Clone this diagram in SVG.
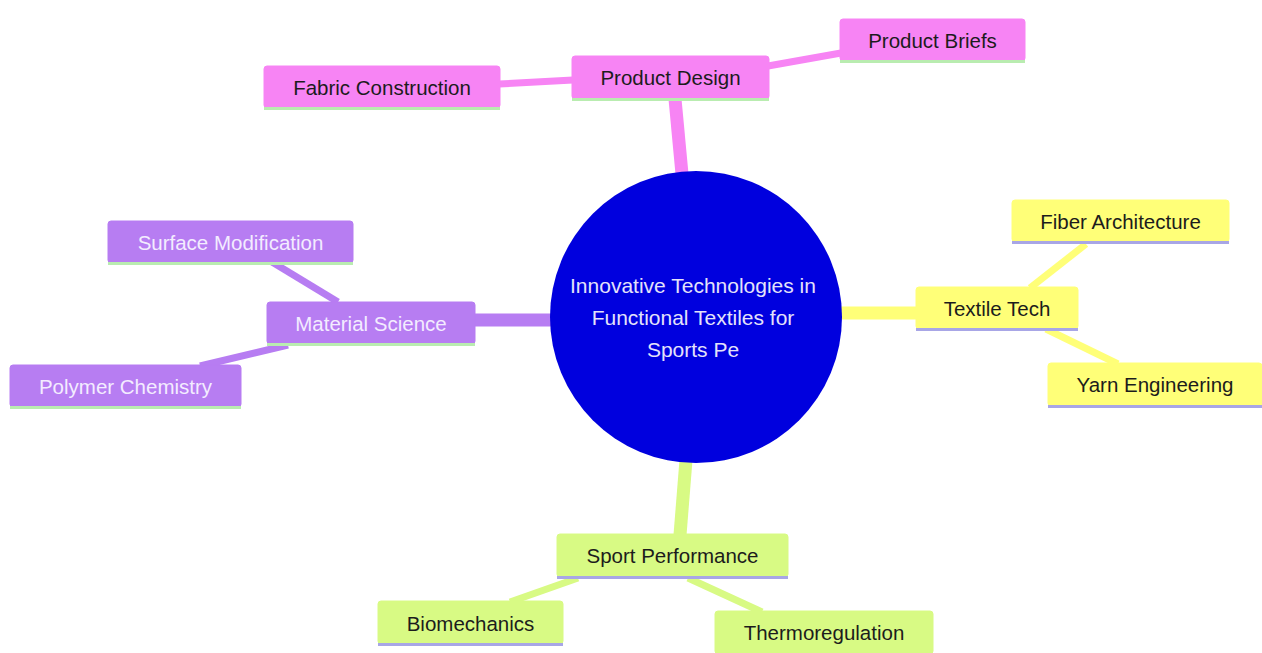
<svg xmlns="http://www.w3.org/2000/svg" width="1262" height="653" viewBox="0 0 1262 653">
<style>
text{font-family:"Liberation Sans",Arial,sans-serif;font-size:20.5px;text-anchor:middle;dominant-baseline:central}
.e1{stroke-width:13;fill:none;stroke-linecap:butt}
.e2{stroke-width:7;fill:none;stroke-linecap:butt}
.pk{fill:#f784f4;stroke:#f784f4}
.pu{fill:#b77df2;stroke:#b77df2}
.ye{fill:#ffff78;stroke:#ffff78}
.gr{fill:#d8fa84;stroke:#d8fa84}
.lpk,.lpu{stroke:#b9ecb0;stroke-width:3}
.lye,.lgr{stroke:#a8a6e6;stroke-width:3}
.dark{fill:#1c1c1c}
.light{fill:#f3ecff}
.root{fill:#e4e2fa;font-size:21px}
</style>
<rect width="1262" height="653" fill="#ffffff"/>
<g id="connectors">
<line class="e1" style="stroke:#f784f4" x1="682" y1="174" x2="675" y2="99"/>
<line class="e2" style="stroke:#f784f4" x1="573" y1="80" x2="499" y2="84"/>
<line class="e2" style="stroke:#f784f4" x1="768" y1="66" x2="841" y2="53"/>
<line class="e1" style="stroke:#b77df2" x1="553" y1="320" x2="474" y2="320"/>
<line class="e2" style="stroke:#b77df2" x1="272" y1="262" x2="338" y2="302"/>
<line class="e2" style="stroke:#b77df2" x1="200" y1="366" x2="288" y2="345"/>
<line class="e1" style="stroke:#ffff78" x1="840" y1="313" x2="917" y2="313"/>
<line class="e2" style="stroke:#ffff78" x1="1086" y1="244" x2="1030" y2="288"/>
<line class="e2" style="stroke:#ffff78" x1="1046" y1="329" x2="1118" y2="364"/>
<line class="e1" style="stroke:#d8fa84" x1="686" y1="460" x2="680" y2="535"/>
<line class="e2" style="stroke:#d8fa84" x1="578" y1="578" x2="510" y2="602"/>
<line class="e2" style="stroke:#d8fa84" x1="688" y1="578" x2="762" y2="612"/>
</g>
<g id="root">
<circle cx="696" cy="317" r="146" fill="#0000de"/>
<text x="693" y="285" class="root">Innovative Technologies in</text>
<text x="693" y="317" class="root">Functional Textiles for</text>
<text x="693" y="349" class="root">Sports Pe</text>
</g>
<g id="product-design">
<rect class="pk" x="572" y="56" width="197" height="43" rx="3"/>
<line class="lpk" x1="572" y1="99.5" x2="769" y2="99.5"/>
<text x="670.5" y="77" class="dark">Product Design</text>
</g>
<g id="product-briefs">
<rect class="pk" x="840" y="19" width="185" height="42" rx="3"/>
<line class="lpk" x1="840" y1="61.5" x2="1025" y2="61.5"/>
<text x="932.5" y="40" class="dark">Product Briefs</text>
</g>
<g id="fabric-construction">
<rect class="pk" x="264" y="66" width="236" height="42" rx="3"/>
<line class="lpk" x1="264" y1="108.5" x2="500" y2="108.5"/>
<text x="382" y="87" class="dark">Fabric Construction</text>
</g>
<g id="material-science">
<rect class="pu" x="267" y="302" width="208" height="42" rx="3"/>
<line class="lpu" x1="267" y1="344.5" x2="475" y2="344.5"/>
<text x="371" y="323" class="light">Material Science</text>
</g>
<g id="surface-modification">
<rect class="pu" x="108" y="221" width="245" height="42" rx="3"/>
<line class="lpu" x1="108" y1="263.5" x2="353" y2="263.5"/>
<text x="230.5" y="242" class="light">Surface Modification</text>
</g>
<g id="polymer-chemistry">
<rect class="pu" x="10" y="365" width="231" height="42" rx="3"/>
<line class="lpu" x1="10" y1="407.5" x2="241" y2="407.5"/>
<text x="125.5" y="386" class="light">Polymer Chemistry</text>
</g>
<g id="textile-tech">
<rect class="ye" x="916" y="287" width="162" height="42" rx="3"/>
<line class="lye" x1="916" y1="329.5" x2="1078" y2="329.5"/>
<text x="997" y="308" class="dark">Textile Tech</text>
</g>
<g id="fiber-architecture">
<rect class="ye" x="1012" y="200" width="217" height="42" rx="3"/>
<line class="lye" x1="1012" y1="242.5" x2="1229" y2="242.5"/>
<text x="1120.5" y="221" class="dark">Fiber Architecture</text>
</g>
<g id="yarn-engineering">
<rect class="ye" x="1048" y="363" width="214" height="43" rx="3"/>
<line class="lye" x1="1048" y1="406.5" x2="1262" y2="406.5"/>
<text x="1155" y="384" class="dark">Yarn Engineering</text>
</g>
<g id="sport-performance">
<rect class="gr" x="557" y="534" width="231" height="43" rx="3"/>
<line class="lgr" x1="557" y1="577.5" x2="788" y2="577.5"/>
<text x="672.5" y="555" class="dark">Sport Performance</text>
</g>
<g id="biomechanics">
<rect class="gr" x="378" y="601" width="185" height="43" rx="3"/>
<line class="lgr" x1="378" y1="644.5" x2="563" y2="644.5"/>
<text x="470.5" y="623" class="dark">Biomechanics</text>
</g>
<g id="thermoregulation">
<rect class="gr" x="715" y="611" width="218" height="43" rx="3"/>
<text x="824" y="632" class="dark">Thermoregulation</text>
</g>
</svg>
